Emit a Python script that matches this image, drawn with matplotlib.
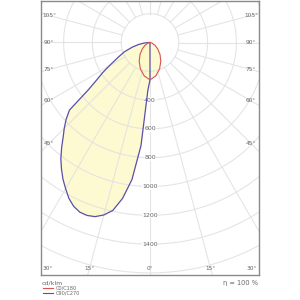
import numpy as np
import matplotlib
matplotlib.use("Agg")
import matplotlib.pyplot as plt

# ---- data (cd/klm) ----
gamma_c0 = [0, 10, 20, 30, 40, 50, 60, 70, 80, 90]
c0_c180 = [260, 235, 195, 150, 108, 70, 42, 20, 8, 0]

gamma_c270 = [0, 2.5, 5, 7.5, 10, 12.5, 15, 17.5, 20, 22.5, 25, 27.5, 30, 32.5,
              35, 37.5, 40, 42.5, 45, 47.5, 50, 52.5, 55, 57.5, 60, 65, 70, 75,
              80, 85, 90]
c270 = [260, 330, 720, 960, 1100, 1195, 1240, 1268, 1278, 1275, 1255, 1220,
        1172, 1125, 1072, 1017, 955, 893, 842, 790, 730, 540, 450, 390, 330,
        245, 190, 130, 82, 40, 5]
gamma_c90 = [0, 90]
c90 = [0, 0]

ring_values = [200, 400, 600, 800, 1000, 1200, 1400, 1600, 1800]
ring_labels = [400, 600, 800, 1000, 1200, 1400]
angle_labels = [0, 15, 30, 45, 60, 75, 90, 105]
legend_names = ["C0/C180", "C90/C270"]
eta_text = "η = 100 %"
unit_text = "cd/klm"

# ---- styling ----
RED = "#d9534f"
BLUE = "#5a4fa6"
FILL = "#fdf9c8"
GRID = "#e2e2e2"
TXT = "#666666"
S = 0.144  # px per cd

fig = plt.figure(figsize=(3, 3), dpi=100)
ax = fig.add_axes([41/300, 25/300, 218/300, 274.5/300])
ax.set_xlim(-109/S, 109/S)
ax.set_ylim(-232.5/S, 42/S)
ax.set_aspect("equal", adjustable="box")
ax.set_xticks([]); ax.set_yticks([])
for sp in ax.spines.values():
    sp.set_color("#8a8a8a"); sp.set_linewidth(1.0)

def xy(g, r, side):
    g = np.radians(np.asarray(g, float)); r = np.asarray(r, float)
    return side * r * np.sin(g), -r * np.cos(g)

# curves
gx, gy = xy(gamma_c270, c270, -1)
hx, hy = xy(gamma_c90, c90, 1)
bx = np.concatenate([hx[::-1], gx]); by = np.concatenate([hy[::-1], gy])
rx1, ry1 = xy(gamma_c0, c0_c180, 1)
rx2, ry2 = xy(gamma_c0, c0_c180, -1)
rx = np.concatenate([rx1[::-1], rx2]); ry = np.concatenate([ry1[::-1], ry2])

ax.fill(bx, by, color=FILL, alpha=0.85, lw=0, zorder=1)
ax.fill(rx, ry, color=FILL, alpha=0.85, lw=0, zorder=1)

# grid
t = np.linspace(0, 2*np.pi, 400)
for rv in ring_values:
    ax.plot(rv*np.sin(t), rv*np.cos(t), color=GRID, lw=0.8, alpha=0.9, zorder=2)
for a in range(0, 360, 15):
    ar = np.radians(a)
    ax.plot([200*np.sin(ar), 2200*np.sin(ar)], [-200*np.cos(ar), -2200*np.cos(ar)],
            color=GRID, lw=0.8, alpha=0.9, zorder=2)

ax.plot(bx, by, color=BLUE, lw=0.9, zorder=4)
ax.plot(rx, ry, color=RED, lw=0.8, zorder=4)

# ring labels
for rv in ring_labels:
    ax.text(0, -rv, str(rv), ha="center", va="center", fontsize=4.5, color=TXT, zorder=3,
            bbox=dict(boxstyle="square,pad=0.1", fc="white", ec="none", alpha=0.8))

# angle labels
for g in angle_labels:
    for side in ([1] if g == 0 else [-1, 1]):
        if g <= 30:
            dx = min(225.5*np.tan(np.radians(g)), 102); dy = 225.5
        else:
            dx = 101; dy = 101/np.tan(np.radians(g))
        ax.text(side*dx/S, -dy/S, f"{g}°", ha="center", va="center",
                fontsize=4.2, color=TXT, zorder=3)

# texts below frame
fig.text(42/300, 1-283/300, unit_text, ha="left", va="center", fontsize=4.5, color=TXT)
fig.text(258/300, 1-283/300, eta_text, ha="right", va="center", fontsize=4.8, color=TXT)
for i, (name, col) in enumerate(zip(legend_names, [RED, BLUE])):
    yy = 1 - (288 + 5.3*i)/300
    fig.add_artist(plt.Line2D([43/300, 53/300], [yy, yy], color=col, lw=0.8))
    fig.text(56/300, yy, name, ha="left", va="center", fontsize=3.6, color=TXT)

fig.savefig("out.png", dpi=100)
